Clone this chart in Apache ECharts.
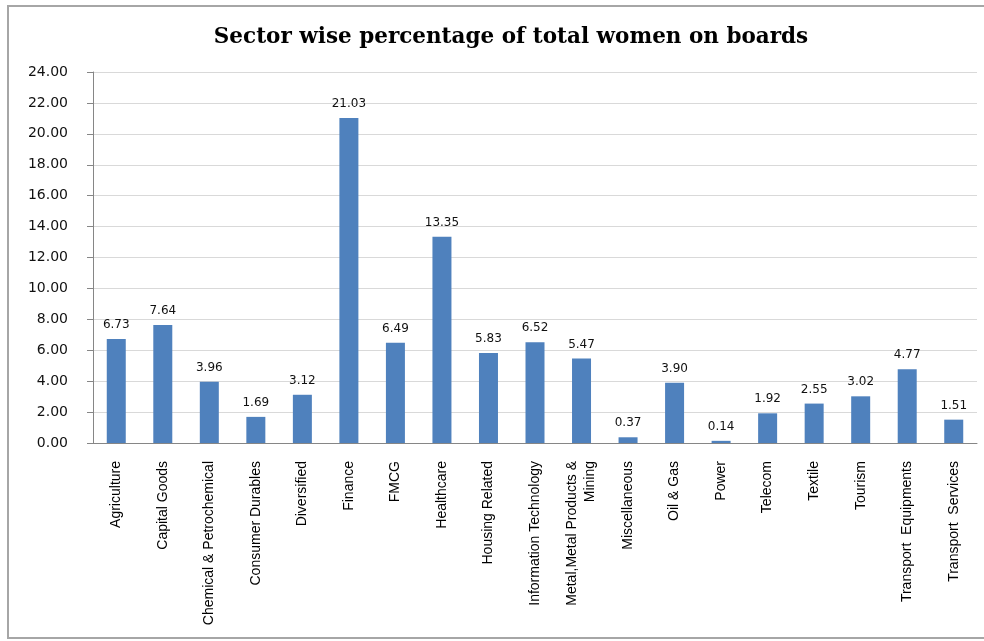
<!DOCTYPE html>
<html>
<head>
<meta charset="utf-8">
<script src="https://cdn.jsdelivr.net/npm/echarts@6/dist/echarts.min.js"></script>
<style>
  html, body { margin: 0; padding: 0; background: #ffffff; }
  #chart { width: 984px; height: 641px; }
</style>
</head>
<body>
<div id="chart"></div>
<script>
// Sectors shown along the category axis
const sectors = [
  'Agriculture', 'Capital Goods', 'Chemical & Petrochemical', 'Consumer Durables',
  'Diversified', 'Finance', 'FMCG', 'Healthcare', 'Housing Related',
  'Information Technology', 'Metal,Metal Products &\nMining', 'Miscellaneous',
  'Oil & Gas', 'Power', 'Telecom', 'Textile', 'Tourism',
  'Transport  Equipments', 'Transport  Services'
];

// Share of total women directors per sector (%)
const womenShare = [
  6.73, 7.64, 3.96, 1.69, 3.12, 21.03, 6.49, 13.35, 5.83,
  6.52, 5.47, 0.37, 3.90, 0.14, 1.92, 2.55, 3.02, 4.77, 1.51
];

// Value axis range
const yMin = 0;
const yMax = 24;
const yStep = 2;

const chart = echarts.init(document.getElementById('chart'), null, { renderer: 'canvas' });

chart.setOption({
  backgroundColor: '#ffffff',
  animation: false,
  title: {
    text: 'Sector wise percentage of total women on boards',
    left: 506,
    textAlign: 'center',
    top: 21,
    textStyle: {
      fontFamily: '"DejaVu Serif", "Liberation Serif", serif',
      fontWeight: 'bold',
      fontSize: 21.5,
      color: '#000000'
    }
  },
  graphic: [{
    type: 'rect',
    silent: true,
    shape: { x: 8, y: 6, width: 1000, height: 632 },
    style: { fill: 'none', stroke: '#a6a6a6', lineWidth: 2 }
  }],
  grid: {
    left: 93, right: 7, top: 72, bottom: 198,
    containLabel: false,
    outerBoundsMode: 'none'
  },
  xAxis: {
    type: 'category',
    data: sectors,
    axisLine: { lineStyle: { color: '#868686', width: 1 } },
    axisTick: { alignWithLabel: true, length: 5, lineStyle: { color: '#868686' } },
    axisLabel: {
      rotate: 90,
      interval: 0,
      margin: 18,
      color: '#000000',
      fontFamily: '"Liberation Sans", Arial, sans-serif',
      fontSize: 14,
      lineHeight: 18
    }
  },
  yAxis: {
    type: 'value',
    min: yMin,
    max: yMax,
    interval: yStep,
    axisLine: { show: true, lineStyle: { color: '#868686', width: 1 } },
    axisTick: { show: true, length: 6, lineStyle: { color: '#868686' } },
    splitLine: { lineStyle: { color: '#d9d9d9', width: 1 } },
    axisLabel: {
      margin: 25,
      color: '#111111',
      fontFamily: '"DejaVu Sans", Verdana, sans-serif',
      fontSize: 14,
      formatter: v => v.toFixed(2)
    }
  },
  series: [{
    type: 'bar',
    data: womenShare,
    barWidth: 19,
    itemStyle: { color: '#4f81bd' },
    label: {
      show: true,
      position: 'top',
      distance: 8,
      color: '#111111',
      fontFamily: '"DejaVu Sans", Verdana, sans-serif',
      fontSize: 12,
      formatter: p => p.value.toFixed(2)
    }
  }]
});
</script>
</body>
</html>
